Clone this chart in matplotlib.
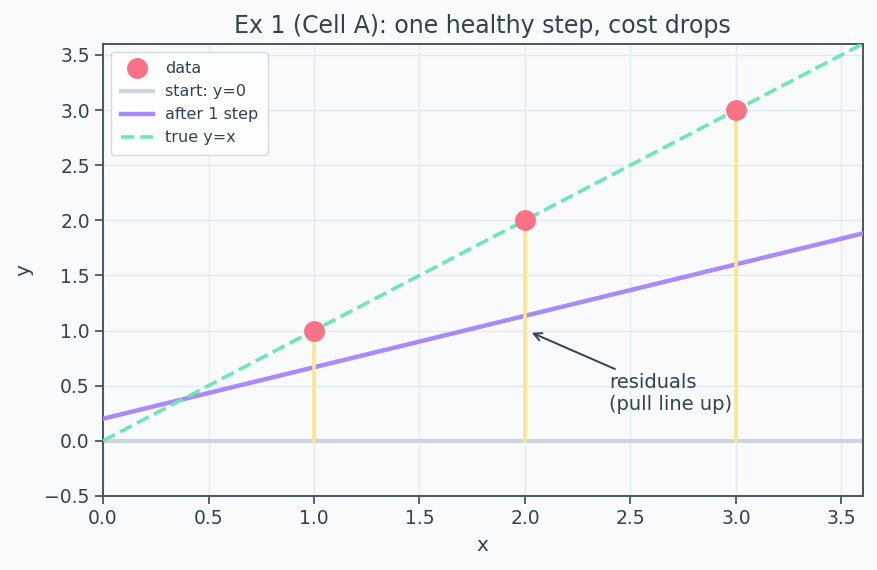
import numpy as np
import matplotlib.pyplot as plt

# data points and the two fitted lines
xs = [1.0, 2.0, 3.0]
ys = [1.0, 2.0, 3.0]
w0, b0 = 0.0, 0.0
w1, b1 = 0.4667, 0.2

plt.rcParams['font.family'] = ['DejaVu Sans']
txt = '#334155'
fig = plt.figure(figsize=(8.77, 5.7), dpi=100, facecolor='#f8fafc')
ax = fig.add_axes([0.1175, 0.13, 0.866, 0.793])
ax.set_facecolor('#f8fafc')

xline = np.array([0.0, 3.6])
ax.plot(xs, ys, 'o', color='#fb7185', markersize=14, label='data', zorder=5)
ax.plot(xline, w0 * xline + b0, color='#cbd5e1', lw=3, label='start: y=0', zorder=2)
ax.plot(xline, w1 * xline + b1, color='#a78bfa', lw=3.2, label='after 1 step', zorder=3)
ax.plot(xline, xline, '--', color='#6ee7b7', lw=2.6, label='true y=x', zorder=3)
for x, y in zip(xs, ys):
    ax.plot([x, x], [w0 * x + b0, y], color='#fde68a', lw=2.6, zorder=4)

ax.annotate('residuals\n(pull line up)', xy=(2.02, 0.99), xytext=(2.4, 0.28),
            fontsize=14, color=txt,
            arrowprops=dict(arrowstyle='->', color=txt, lw=1.4))

ax.set_xlim(0, 3.6)
ax.set_ylim(-0.5, 3.6)
ax.set_xticks(np.arange(0, 3.51, 0.5))
ax.set_yticks(np.arange(-0.5, 3.51, 0.5))
ax.grid(True, color='#e2e8f0', lw=0.9)
ax.set_axisbelow(True)
for s in ax.spines.values():
    s.set_color('#475569')
    s.set_linewidth(1.4)
ax.tick_params(colors=txt, labelsize=13.5, length=6, width=1.3, color='#475569')
ax.set_xlabel('x', fontsize=14.5, color=txt, labelpad=6)
ax.set_ylabel('y', fontsize=14.5, color=txt, labelpad=8)
ax.set_title('Ex 1 (Cell A): one healthy step, cost drops', fontsize=17, color=txt, pad=8)
leg = ax.legend(loc='upper left', fontsize=11.5, framealpha=0.9, edgecolor='#cbd5e1',
                borderpad=0.6, handlelength=2.0, labelcolor=txt)

fig.savefig('out.png', dpi=100, facecolor=fig.get_facecolor())
